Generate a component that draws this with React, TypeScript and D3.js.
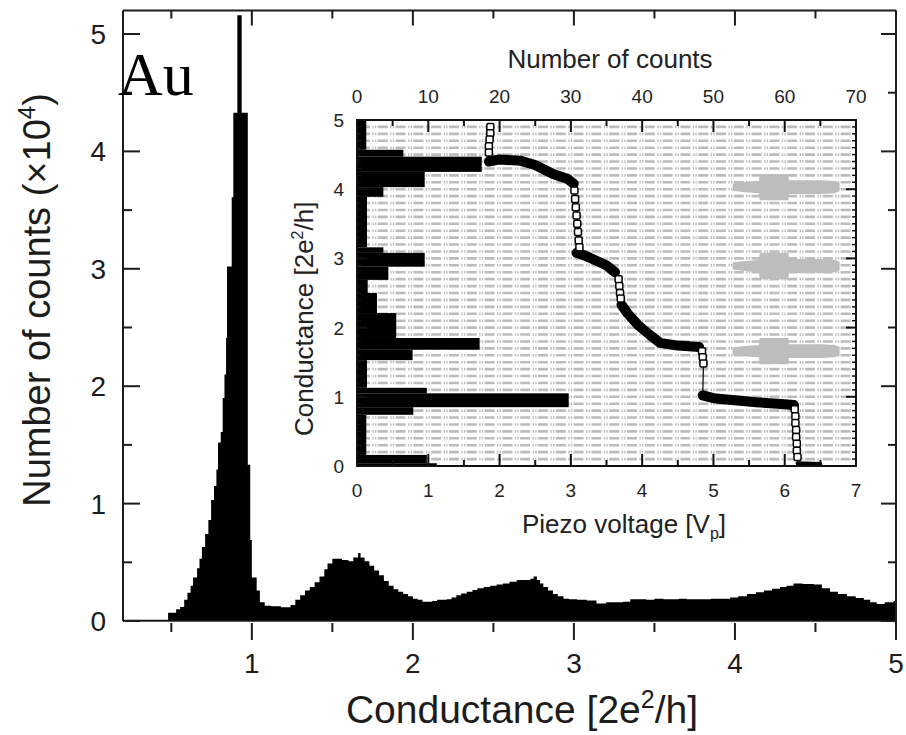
import React from 'react';
import * as d3 from 'd3';

const W = 906;
const H = 735;
const FONT = 'Liberation Sans, Arial, Helvetica, sans-serif';

// main histogram: left edge of each step (2e^2/h) and counts (x10^4)
const mainG = [
  0.2, 0.48, 0.53, 0.555, 0.58, 0.6, 0.62, 0.635, 0.66, 0.675, 0.69, 0.71, 0.73, 0.747, 0.765, 0.78,
  0.79, 0.807, 0.819, 0.83, 0.84, 0.846, 0.875, 0.885, 0.91, 0.937, 0.975, 0.99, 1.0, 1.03, 1.05,
  1.08, 1.12, 1.18, 1.24, 1.27, 1.3, 1.33, 1.36, 1.39, 1.42, 1.45, 1.47, 1.5, 1.56, 1.6, 1.63, 1.66,
  1.675, 1.7, 1.73, 1.76, 1.79, 1.82, 1.85, 1.88, 1.91, 1.94, 1.97, 2.0, 2.03, 2.06, 2.12, 2.15, 2.21,
  2.24, 2.27, 2.3, 2.335, 2.37, 2.4, 2.44, 2.48, 2.52, 2.56, 2.6, 2.645, 2.7, 2.73, 2.75, 2.77, 2.79,
  2.81, 2.84, 2.87, 2.9, 2.935, 2.97, 3.02, 3.08, 3.14, 3.2, 3.26, 3.305, 3.35, 3.45, 3.5, 3.556, 3.65,
  3.7, 3.763, 3.85, 3.92, 3.97, 4.02, 4.074, 4.13, 4.18, 4.23, 4.28, 4.32, 4.363, 4.42, 4.49, 4.54,
  4.59, 4.64, 4.695, 4.75, 4.8, 4.84, 4.88, 4.93, 4.985, 5.0,
];
const mainCounts = [
  0.01, 0.07, 0.1, 0.12, 0.18, 0.24, 0.3, 0.37, 0.45, 0.53, 0.63, 0.74, 0.86, 1.03, 1.15, 1.29,
  1.52, 1.61, 1.9, 2.1, 2.41, 3.02, 3.61, 4.33, 5.16, 4.33, 1.33, 0.69, 0.37, 0.26, 0.16,
  0.13, 0.125, 0.117, 0.136, 0.18, 0.22, 0.26, 0.29, 0.33, 0.38, 0.44, 0.49, 0.53, 0.52, 0.51, 0.54, 0.58,
  0.54, 0.51, 0.47, 0.43, 0.39, 0.34, 0.3, 0.27, 0.25, 0.23, 0.21, 0.19, 0.18, 0.165, 0.17, 0.18, 0.185,
  0.2, 0.22, 0.235, 0.25, 0.265, 0.28, 0.29, 0.3, 0.31, 0.32, 0.335, 0.35, 0.35, 0.36, 0.38, 0.35, 0.32,
  0.29, 0.26, 0.23, 0.21, 0.19, 0.185, 0.18, 0.175, 0.15, 0.16, 0.16, 0.165, 0.185, 0.18, 0.19, 0.185, 0.19,
  0.185, 0.185, 0.19, 0.19, 0.2, 0.21, 0.23, 0.245, 0.26, 0.275, 0.29, 0.3, 0.32, 0.315, 0.31, 0.28,
  0.25, 0.23, 0.21, 0.195, 0.18, 0.16, 0.145, 0.16, 0.17, 0.17,
];
const mainXTicks = [1, 2, 3, 4, 5];
const mainXMinor = [0.5, 1.5, 2.5, 3.5, 4.5];
const mainYTicks = [0, 1, 2, 3, 4, 5];
const mainYMinor = [0.5, 1.5, 2.5, 3.5, 4.5];

// inset histogram: bin edges (2e^2/h) and number of counts
const insetEdges = [
  0, 0.04, 0.16, 0.74, 0.85, 1.05, 1.13, 1.53, 1.68, 1.85, 2.21, 2.5, 2.69, 2.88, 3.08, 3.16, 3.89,
  4.03, 4.25, 4.47, 4.57, 5.0,
];
const insetCounts = [
  11.2, 9.8, 1.3, 7.9, 29.7, 9.8, 1.4, 7.8, 17.2, 5.5, 2.8, 1.5, 4.4, 9.5, 3.7, 1.4,
  3.7, 9.5, 17.5, 6.5, 1.3,
];

// conductance trace: plateaus (piezo V, G) and points on the steps
const plateau1 = [[1.85, 4.4], [2.0, 4.43], [2.3, 4.41], [2.5, 4.35], [2.75, 4.22], [2.95, 4.15], [3.04, 4.08]];
const plateau2 = [[3.08, 3.08], [3.2, 3.04], [3.35, 2.97], [3.5, 2.9], [3.62, 2.8]];
const plateau3 = [[3.71, 2.33], [3.8, 2.2], [3.95, 2.03], [4.1, 1.9], [4.25, 1.78], [4.5, 1.74], [4.8, 1.72]];
const plateau4 = [[4.85, 1.02], [5.0, 0.98], [5.3, 0.95], [5.6, 0.92], [5.9, 0.9], [6.13, 0.88]];
const tail = [[6.18, 0.04], [6.5, 0.03]];
const step1 = [[1.87, 4.9], [1.87, 4.81], [1.86, 4.72], [1.85, 4.62], [1.85, 4.53]];
const step2 = [[3.05, 3.98], [3.06, 3.86], [3.07, 3.74], [3.08, 3.62], [3.09, 3.5], [3.1, 3.38], [3.11, 3.26], [3.12, 3.16]];
const step3 = [[3.67, 2.7], [3.68, 2.6], [3.69, 2.5], [3.7, 2.42]];
const step4 = [[4.84, 1.66], [4.85, 1.57], [4.86, 1.48]];
const step5 = [[6.14, 0.82], [6.15, 0.72], [6.15, 0.62], [6.16, 0.52], [6.16, 0.42], [6.17, 0.32], [6.17, 0.22], [6.18, 0.13]];

// grey marks on the right of the inset
const greyCenters = [4.03, 2.89, 1.66];
const greyV = [5.27, 5.4, 5.55, 5.64, 5.65, 6.05, 6.06, 6.5, 6.7, 6.77];
const greyHalf = [0.05, 0.07, 0.08, 0.09, 0.19, 0.19, 0.1, 0.1, 0.09, 0.06];

const insetVTicks = [0, 1, 2, 3, 4, 5, 6, 7];
const insetCountTicks = [0, 10, 20, 30, 40, 50, 60, 70];
const insetGTicks = [0, 1, 2, 3, 4, 5];

export default function App() {
  // main scales
  const x = d3.scaleLinear().domain([0.2, 5]).range([123, 896]);
  const y = d3.scaleLinear().domain([0, 5]).range([621, 34]);
  const top = y(5.2);
  const bottom = 640;

  const mainData = mainG.map((g, i) => ({ g, v: mainCounts[i] }));
  const mainArea = d3.area<{ g: number; v: number }>()
    .x(d => x(d.g))
    .y0(y(0))
    .y1(d => y(d.v))
    .curve(d3.curveStepAfter);

  // inset scales
  const ix = d3.scaleLinear().domain([0, 7]).range([357, 856]);
  const ic = d3.scaleLinear().domain([0, 70]).range([357, 856]);
  const iy = d3.scaleLinear().domain([0, 5]).range([466, 120]);

  const gridG = d3.range(1, 50).map(i => i / 10);
  const smallG = d3.range(1, 50).map(i => i / 10).filter(g => Math.abs(g - Math.round(g)) > 1e-6);

  const line = d3.line<number[]>().x(d => ix(d[0])).y(d => iy(d[1]));
  const fullTrace = [...step1, ...plateau1, ...step2, ...plateau2, ...step3, ...plateau3, ...step4, ...plateau4, ...step5, ...tail];
  const plateaus = [plateau1, plateau2, plateau3, plateau4];

  const greyArea = (c: number) =>
    d3.area<number>()
      .x((_, i) => ix(greyV[i]))
      .y0((_, i) => iy(c - greyHalf[i]))
      .y1((_, i) => iy(c + greyHalf[i]))
      .curve(d3.curveLinear)(greyHalf);

  const ink = '#1c1c1c';

  return (
    <svg width={W} height={H} style={{ position: 'absolute', left: 0, top: 0, background: '#fff' }} fontFamily={FONT}>
      <rect width={W} height={H} fill="#fff" />

      {/* main histogram */}
      <path d={mainArea(mainData) || ''} fill="#000" />

      {/* main frame */}
      <g stroke={ink} strokeWidth={2} fill="none">
        <line x1={123} x2={123} y1={top} y2={y(0)} />
        <line x1={123} x2={896} y1={top} y2={top} />
        <line x1={896} x2={896} y1={top} y2={bottom} />
        <line x1={123} x2={896} y1={y(0)} y2={y(0)} strokeWidth={1.5} />
        {mainYTicks.map(t => (
          <g key={'yt' + t}>
            <line x1={123} x2={140} y1={y(t)} y2={y(t)} />
            <line x1={896} x2={881} y1={y(t)} y2={y(t)} />
          </g>
        ))}
        {mainYMinor.map(t => (
          <g key={'ym' + t}>
            <line x1={123} x2={132} y1={y(t)} y2={y(t)} />
            <line x1={896} x2={888} y1={y(t)} y2={y(t)} />
          </g>
        ))}
        {mainXTicks.map(t => (
          <g key={'xt' + t}>
            <line x1={x(t)} x2={x(t)} y1={623} y2={bottom} />
            <line x1={x(t)} x2={x(t)} y1={top} y2={top + 15} />
          </g>
        ))}
        {mainXMinor.map(t => (
          <g key={'xm' + t}>
            <line x1={x(t)} x2={x(t)} y1={623} y2={632} />
            <line x1={x(t)} x2={x(t)} y1={top} y2={top + 8} />
          </g>
        ))}
      </g>

      {/* main tick labels */}
      <g fill={ink} fontSize={28}>
        {mainXTicks.map(t => (
          <text key={'xl' + t} x={x(t)} y={673} textAnchor="middle">{t}</text>
        ))}
        {mainYTicks.map(t => (
          <text key={'yl' + t} x={106} y={y(t) + 10} textAnchor="end">{t}</text>
        ))}
      </g>

      {/* main titles */}
      <text x={522} y={723} textAnchor="middle" fontSize={39} fill={ink}>
        Conductance [2e<tspan dy={-15} fontSize={25}>2</tspan><tspan dy={15}>/h]</tspan>
      </text>
      <text transform="translate(50,300) rotate(-90)" textAnchor="middle" fontSize={38} fill={ink}>
        Number of counts (×10<tspan dy={-15} fontSize={24}>4</tspan><tspan dy={15}>)</tspan>
      </text>
      <text x={118} y={95} fontFamily="Liberation Serif, Times New Roman, serif" fontSize={62} fill="#000">Au</text>

      {/* inset */}
      <g>
        <rect x={ix(0)} y={iy(5)} width={ix(7) - ix(0)} height={iy(0) - iy(5)} fill="#fff" />
        <g stroke="#bcbcbc" strokeWidth={2.6} strokeDasharray="10 2.4 1.4 1.2 1.4 1.4">
          {gridG.map(g => (
            <line key={'g' + g} x1={ix(0) + 3} x2={ix(7) - 4} y1={iy(g)} y2={iy(g)} />
          ))}
        </g>

        {/* grey marks */}
        {greyCenters.map(c => (
          <path key={'gr' + c} d={greyArea(c) || ''} fill="#bdbdbd" />
        ))}

        {/* histogram bars */}
        {insetCounts.map((n, i) => (
          <rect key={'ib' + i} x={ic(0)} y={iy(insetEdges[i + 1])} width={ic(n) - ic(0)}
            height={iy(insetEdges[i]) - iy(insetEdges[i + 1])} fill="#000" />
        ))}

        {/* trace */}
        <path d={line(fullTrace) || ''} fill="none" stroke="#000" strokeWidth={1.2} />
        {plateaus.map((p, i) => (
          <path key={'pl' + i} d={line(p) || ''} fill="none" stroke="#000" strokeWidth={10}
            strokeLinecap="round" strokeLinejoin="round" />
        ))}
        <path d={line(tail) || ''} fill="none" stroke="#000" strokeWidth={4} strokeLinecap="round" />
        {[step1, step2, step3, step4, step5].flat().map((d, i) => (
          <rect key={'mk' + i} x={ix(d[0]) - 3.5} y={iy(d[1]) - 3.5} width={7} height={7} rx={1.5}
            fill="#fff" stroke="#000" strokeWidth={1.5} />
        ))}

        {/* inset frame and ticks */}
        <g stroke="#111" strokeWidth={2} fill="none">
          <rect x={ix(0)} y={iy(5)} width={ix(7) - ix(0)} height={iy(0) - iy(5)} />
          {insetVTicks.map(t => (
            <line key={'ivt' + t} x1={ix(t)} x2={ix(t)} y1={iy(0)} y2={iy(0) - 12} />
          ))}
          {insetVTicks.slice(0, 7).map(t => (
            <line key={'ivm' + t} x1={ix(t + 0.5)} x2={ix(t + 0.5)} y1={iy(0)} y2={iy(0) - 6} />
          ))}
          {insetCountTicks.map(t => (
            <line key={'ict' + t} x1={ic(t)} x2={ic(t)} y1={iy(5)} y2={iy(5) + 12} />
          ))}
          {insetCountTicks.slice(0, 7).map(t => (
            <line key={'icm' + t} x1={ic(t + 5)} x2={ic(t + 5)} y1={iy(5)} y2={iy(5) + 6} />
          ))}
          {insetGTicks.map(t => (
            <g key={'igt' + t}>
              <line x1={ix(7)} x2={ix(7) - 10} y1={iy(t)} y2={iy(t)} />
              <line x1={ix(0)} x2={ix(0) + 10} y1={iy(t)} y2={iy(t)} />
            </g>
          ))}
          {smallG.map(t => (
            <g key={'igm' + t}>
              <line x1={ix(7)} x2={ix(7) - 4} y1={iy(t)} y2={iy(t)} strokeWidth={1.5} />
              <line x1={ix(0)} x2={ix(0) + 4} y1={iy(t)} y2={iy(t)} strokeWidth={1.5} />
            </g>
          ))}
        </g>

        {/* inset labels */}
        <g fill="#222" fontSize={19}>
          {insetVTicks.map(t => (
            <text key={'ivl' + t} x={ix(t)} y={497} textAnchor="middle">{t}</text>
          ))}
          {insetCountTicks.map(t => (
            <text key={'icl' + t} x={ic(t)} y={103} textAnchor="middle">{t}</text>
          ))}
          {insetGTicks.map(t => (
            <text key={'igl' + t} x={344} y={iy(t) + 7} textAnchor="end">{t}</text>
          ))}
        </g>
        <text x={610} y={68} textAnchor="middle" fontSize={26} fill="#222">Number of counts</text>
        <text x={522} y={533} fontSize={26} fill="#222">
          Piezo voltage [V<tspan dy={6} fontSize={16}>p</tspan><tspan dy={-6}>]</tspan>
        </text>
        <text transform="translate(313,436) rotate(-90)" fontSize={26} fill="#222">
          Conductance [2e<tspan dy={-10} fontSize={16}>2</tspan><tspan dy={10}>/h]</tspan>
        </text>
      </g>
    </svg>
  );
}
